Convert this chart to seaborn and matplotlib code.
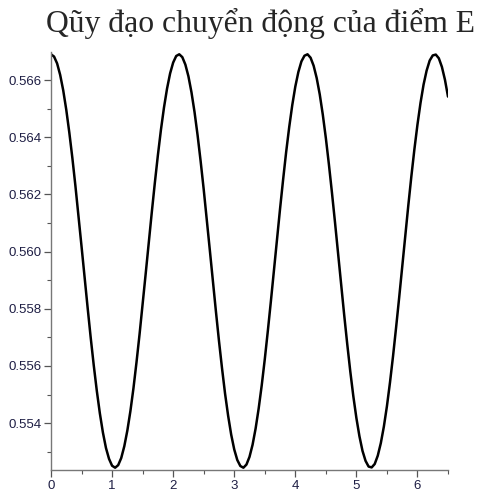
import numpy as np
import pandas as pd
import matplotlib
matplotlib.use("Agg")
import matplotlib.pyplot as plt
import seaborn as sns
from matplotlib.ticker import MultipleLocator

# time grid (step 0.05) and y position of point E
t_vals = np.round(np.arange(0, 6.501, 0.05), 2)
y_vals = [
    0.56690, 0.56682, 0.56658, 0.56618, 0.56564, 0.56496, 0.56416, 0.56327,
    0.56229, 0.56125, 0.56018, 0.55910, 0.55803, 0.55699, 0.55602, 0.55513,
    0.55434, 0.55367, 0.55313, 0.55275, 0.55251, 0.55244, 0.55253, 0.55278,
    0.55319, 0.55374, 0.55442, 0.55522, 0.55613, 0.55711, 0.55815, 0.55922,
    0.56030, 0.56137, 0.56240, 0.56337, 0.56426, 0.56504, 0.56570, 0.56623,
    0.56661, 0.56684, 0.56690, 0.56680, 0.56654, 0.56613, 0.56557, 0.56488,
    0.56407, 0.56316, 0.56218, 0.56113, 0.56006, 0.55898, 0.55791, 0.55688,
    0.55592, 0.55503, 0.55426, 0.55360, 0.55308, 0.55271, 0.55250, 0.55244,
    0.55255, 0.55282, 0.55324, 0.55381, 0.55451, 0.55532, 0.55623, 0.55722,
    0.55826, 0.55934, 0.56042, 0.56149, 0.56251, 0.56348, 0.56435, 0.56512,
    0.56577, 0.56628, 0.56665, 0.56685, 0.56690, 0.56678, 0.56650, 0.56607,
    0.56550, 0.56479, 0.56397, 0.56305, 0.56206, 0.56102, 0.55994, 0.55886,
    0.55779, 0.55677, 0.55581, 0.55494, 0.55418, 0.55354, 0.55303, 0.55268,
    0.55248, 0.55245, 0.55257, 0.55286, 0.55330, 0.55388, 0.55459, 0.55542,
    0.55634, 0.55734, 0.55838, 0.55946, 0.56054, 0.56161, 0.56263, 0.56358,
    0.56444, 0.56520, 0.56584, 0.56633, 0.56668, 0.56686, 0.56689, 0.56676,
    0.56646, 0.56601, 0.56542,
]
x_ticks = [0, 1, 2, 3, 4, 5, 6]
y_ticks = [0.554, 0.556, 0.558, 0.560, 0.562, 0.564, 0.566]
title = "Qũy đạo chuyển động của điểm E"

df = pd.DataFrame({"t": t_vals, "y": y_vals})

sns.set_style("ticks")
plt.rcParams["font.family"] = ["Liberation Sans", "DejaVu Sans"]

fig = plt.figure(figsize=(4.78, 4.92), dpi=100)
ax = fig.add_axes([51 / 478, 1 - 470 / 492, 397 / 478, 418 / 492])

sns.lineplot(data=df, x="t", y="y", ax=ax, color="black", linewidth=1.8,
             solid_joinstyle="round")

ax.set_xlim(0, 6.5)
ax.set_ylim(0.55236, 0.56698)
ax.set_xticks(x_ticks)
ax.set_yticks(y_ticks)
ax.set_yticklabels([f"{v:.3f}" for v in y_ticks])
ax.xaxis.set_minor_locator(MultipleLocator(0.5))
ax.yaxis.set_minor_locator(MultipleLocator(0.001))
ax.set_xlabel("")
ax.set_ylabel("")

for side in ["top", "right"]:
    ax.spines[side].set_visible(False)
for side in ["left", "bottom"]:
    ax.spines[side].set_color("#777777")
    ax.spines[side].set_linewidth(1.0)

ax.tick_params(which="major", length=5, width=0.9, color="#555555",
               labelsize=9.5, labelcolor="#1e1e44", pad=2)
ax.tick_params(which="minor", length=3, width=0.8, color="#555555")

fig.text(260 / 478, 1 - 32 / 492, title, ha="center", va="baseline",
         fontsize=22.8, family=["Liberation Serif", "DejaVu Serif"])

fig.savefig("out.png", dpi=100)
